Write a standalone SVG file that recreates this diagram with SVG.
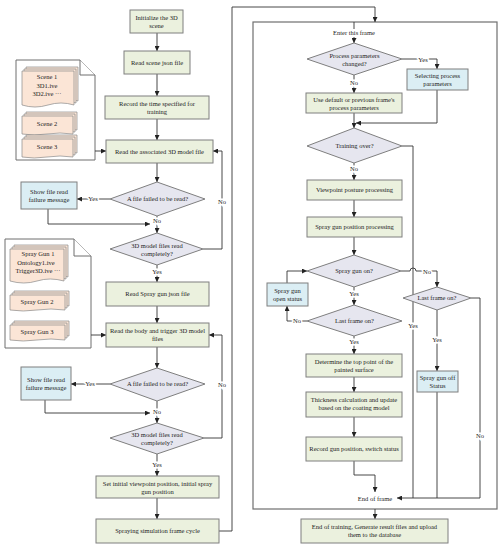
<svg xmlns="http://www.w3.org/2000/svg" width="503" height="550" viewBox="0 0 503 550">
<defs>
<marker id="ah" viewBox="0 0 6 6" refX="6" refY="3" markerWidth="5" markerHeight="5" markerUnits="userSpaceOnUse" orient="auto"><path d="M0,0 L6,3 L0,6 Z" fill="#222"/></marker>
<style>
.g{fill:#ebf1de;stroke:#7f7f7f;stroke-width:1}
.b{fill:#dbeef4;stroke:#7f7f7f;stroke-width:1}
.d{fill:#e6e6ef;stroke:#7f7f7f;stroke-width:1}
.doc{fill:#fff;stroke:#6f6f6f;stroke-width:1}
.card{fill:#fbe5d6;stroke:#8a8a8a;stroke-width:0.7}
.frame{fill:none;stroke:#6f6f6f;stroke-width:1.2}
.c{fill:none;stroke:#333;stroke-width:0.9}
.a{marker-end:url(#ah)}
text{font-family:"Liberation Serif","Times New Roman",serif;font-size:6.5px;fill:#222;text-anchor:middle}
.lbl{paint-order:stroke;stroke:#fff;stroke-width:3px}
</style>
</defs>
<rect width="503" height="550" fill="#fff"/>

<!-- frame -->
<rect id="frame" class="frame" x="253" y="22" width="244" height="487"/>

<!-- documents -->
<g id="scene-doc">
<path class="doc" d="M16,60 H80 L95,75 V160 H16 Z"/>
<path class="doc" d="M80,60 V75 H95"/>
<path class="card" d="M26,67 H78 V101 Q65,97 52,101 T26,101 Z"/>
<path class="card" d="M24,69 H76 V103 Q63,99 50,103 T24,103 Z"/>
<path class="card" d="M22,71 H74 V105 Q61,101 48,105 T22,105 Z"/>
<text x="47" y="79">Scene 1</text>
<text x="47" y="87.5">3D1.ive</text>
<text x="47" y="96">3D2.ive ···</text>
<path class="card" d="M26,112 H77 V130 Q64,128 51,130 T26,130 Z"/>
<path class="card" d="M24,114 H75 V132 Q62,130 49,132 T24,132 Z"/>
<path class="card" d="M22,116 H73 V134 Q60,132 47,134 T22,134 Z"/>
<text x="47" y="126">Scene 2</text>
<path class="card" d="M26,135 H77 V153 Q64,151 51,153 T26,153 Z"/>
<path class="card" d="M24,137 H75 V155 Q62,153 49,155 T24,155 Z"/>
<path class="card" d="M22,139 H73 V157 Q60,155 47,157 T22,157 Z"/>
<text x="47" y="149">Scene 3</text>
</g>

<g id="gun-doc">
<path class="doc" d="M5,239 H74 L91,256 V348 H5 Z"/>
<path class="doc" d="M74,239 V256 H91"/>
<path class="card" d="M14,245 H68 V277 Q54,273 41,277 T14,277 Z"/>
<path class="card" d="M12,247 H66 V279 Q52,275 39,279 T12,279 Z"/>
<path class="card" d="M10,249 H64 V281 Q50,277 37,281 T10,281 Z"/>
<text x="38" y="256">Spray Gun 1</text>
<text x="36" y="264.5">Ontology1.ive</text>
<text x="38" y="273">Trigger3D.ive ···</text>
<path class="card" d="M14,291 H69 V306 Q55,304 41,306 T14,306 Z"/>
<path class="card" d="M12,293 H67 V308 Q53,306 39,308 T12,308 Z"/>
<path class="card" d="M10,295 H65 V310 Q51,308 37,310 T10,310 Z"/>
<text x="37" y="304">Spray Gun 2</text>
<path class="card" d="M14,321 H69 V336 Q55,334 41,336 T14,336 Z"/>
<path class="card" d="M12,323 H67 V338 Q53,336 39,338 T12,338 Z"/>
<path class="card" d="M10,325 H65 V340 Q51,338 37,340 T10,340 Z"/>
<text x="37" y="334">Spray Gun 3</text>
</g>

<!-- connectors -->
<g id="connectors">
<path class="c a" d="M157,33 V51"/>
<path class="c a" d="M157,74 V96"/>
<path class="c a" d="M157,119 V140"/>
<path class="c a" d="M95,151 H106"/>
<path class="c a" d="M157,163 V182"/>
<path class="c a" d="M110,199 H77"/>
<path class="c a" d="M48,209 V224 H150"/>
<path class="c a" d="M157,216 V233"/>
<path class="c a" d="M203,249 H222 V151 H213"/>
<path class="c a" d="M157,265 V282"/>
<path class="c a" d="M157,306 V323"/>
<path class="c a" d="M91,335 H106"/>
<path class="c a" d="M157,347 V368"/>
<path class="c a" d="M110,384 H71"/>
<path class="c a" d="M45,400 V413 H150"/>
<path class="c a" d="M157,401 V423"/>
<path class="c a" d="M204,438 H222 V335 H209"/>
<path class="c a" d="M157,454 V476"/>
<path class="c a" d="M157,498 V519"/>
<path class="c a" d="M219,531 H232 V7 H375 V22"/>

<path class="c" d="M354,22 V29"/>
<path class="c a" d="M354,37 V43"/>
<path class="c a" d="M402,59 H437 V69"/>
<path class="c a" d="M354,75 V93"/>
<path class="c a" d="M354,113 V128"/>
<path class="c a" d="M437,90 V123 H356"/>
<path class="c" d="M402,146 H413 V498"/>
<path class="c a" d="M354,163 V180"/>
<path class="c a" d="M354,200 V217"/>
<path class="c a" d="M354,237 V255"/>
<path class="c a" d="M401,271 H410 A3,3 0 0 1 416,271 H437 V287"/>
<path class="c a" d="M287,283 V271 H307"/>
<path class="c a" d="M307,321 H287 V306"/>
<path class="c a" d="M354,287 V305"/>
<path class="c a" d="M354,336 V354"/>
<path class="c a" d="M354,377 V392"/>
<path class="c a" d="M354,417 V437"/>
<path class="c a" d="M354,461 V475 H375 V492"/>
<path class="c a" d="M471,298 H480 V498 H397"/>
<path class="c a" d="M437,310 V371"/>
<path class="c" d="M437,392 V498"/>
<path class="c a" d="M375,509 V519"/>
</g>

<!-- connector labels -->
<g id="labels">
<text class="lbl" x="93" y="201">Yes</text>
<text class="lbl" x="157" y="223">No</text>
<text class="lbl" x="222" y="204">No</text>
<text class="lbl" x="157" y="274">Yes</text>
<text class="lbl" x="90" y="386">Yes</text>
<text class="lbl" x="157" y="414">No</text>
<text class="lbl" x="222" y="387">No</text>
<text class="lbl" x="157" y="467">Yes</text>
<text class="lbl" x="423" y="62">Yes</text>
<text class="lbl" x="354" y="85">No</text>
<text class="lbl" x="354" y="171">No</text>
<text class="lbl" x="413" y="328">Yes</text>
<text class="lbl" x="427" y="274">No</text>
<text class="lbl" x="297" y="323">No</text>
<text class="lbl" x="354" y="296">Yes</text>
<text class="lbl" x="354" y="344">Yes</text>
<text class="lbl" x="480" y="438">No</text>
<text class="lbl" x="437" y="342">Yes</text>
</g>

<!-- left nodes -->
<g id="init"><rect class="g" x="130" y="10" width="53" height="23"/><text x="156.5" y="20">Initialize the 3D</text><text x="156.5" y="28">scene</text></g>
<g id="read-scene"><rect class="g" x="124" y="51" width="66" height="23"/><text x="157" y="64.5">Read scene json file</text></g>
<g id="record-time"><rect class="g" x="105" y="96" width="104" height="23"/><text x="157" y="106">Record the time specified for</text><text x="157" y="114">training</text></g>
<g id="read-model"><rect class="g" x="106" y="140" width="107" height="23"/><text x="159.5" y="153.5">Read the associated 3D model file</text></g>
<g id="fail1"><polygon class="d" points="157,182 205,199 157,216 110,199"/><text x="157.5" y="201">A file failed to be read?</text></g>
<g id="show1"><rect class="b" x="21" y="182" width="56" height="27"/><text x="49" y="193.5">Show file read</text><text x="49" y="201.5">failure message</text></g>
<g id="complete1"><polygon class="d" points="157,233 203,249 157,265 110,249"/><text x="157" y="247.5">3D model files read</text><text x="157" y="255.5">completely?</text></g>
<g id="read-gun"><rect class="g" x="106" y="282" width="103" height="24"/><text x="157.5" y="296">Read Spray gun json file</text></g>
<g id="read-body"><rect class="g" x="106" y="323" width="103" height="24"/><text x="157.5" y="333">Read the body and trigger 3D model</text><text x="157.5" y="341">files</text></g>
<g id="fail2"><polygon class="d" points="157,368 205,384 157,401 110,384"/><text x="157.5" y="386">A file failed to be read?</text></g>
<g id="show2"><rect class="b" x="21" y="367" width="50" height="33"/><text x="46" y="382">Show file read</text><text x="46" y="390">failure message</text></g>
<g id="complete2"><polygon class="d" points="157,423 204,438 157,454 110,438"/><text x="157" y="436.5">3D model files read</text><text x="157" y="444.5">completely?</text></g>
<g id="set-initial"><rect class="g" x="96" y="476" width="123" height="22"/><text x="157.5" y="485.5">Set initial viewpoint position, initial spray</text><text x="157.5" y="493.5">gun position</text></g>
<g id="frame-cycle"><rect class="g" x="96" y="519" width="123" height="24"/><text x="157.5" y="533">Spraying simulation frame cycle</text></g>

<!-- right nodes -->
<g id="enter"><text x="354" y="35">Enter this frame</text></g>
<g id="params-changed"><polygon class="d" points="354,43 402,59 354,75 307,59"/><text x="354.5" y="57.5">Process parameters</text><text x="354.5" y="65.5">changed?</text></g>
<g id="select-params"><rect class="b" x="407" y="69" width="61" height="21"/><text x="437.5" y="78">Selecting process</text><text x="437.5" y="86">parameters</text></g>
<g id="use-default"><rect class="g" x="306" y="93" width="96" height="20"/><text x="354" y="101.5">Use default or previous frame's</text><text x="354" y="109.5">process parameters</text></g>
<g id="training-over"><polygon class="d" points="354,128 402,146 354,163 307,146"/><text x="354.5" y="148">Training over?</text></g>
<g id="viewpoint"><rect class="g" x="307" y="180" width="95" height="20"/><text x="354.5" y="192">Viewpoint posture processing</text></g>
<g id="gun-pos"><rect class="g" x="307" y="217" width="95" height="20"/><text x="354.5" y="229">Spray gun position processing</text></g>
<g id="gun-on"><polygon class="d" points="354,255 401,271 354,287 307,271"/><text x="354" y="273">Spray gun on?</text></g>
<g id="open-status"><rect class="b" x="267" y="283" width="41" height="23"/><text x="287.5" y="292.5">Spray gun</text><text x="287.5" y="300.5">open status</text></g>
<g id="last-frame-1"><polygon class="d" points="354,305 402,321 354,336 307,321"/><text x="354.5" y="323">Last frame on?</text></g>
<g id="last-frame-2"><polygon class="d" points="437,287 471,298 437,310 403,298"/><text x="437" y="300">Last frame on?</text></g>
<g id="off-status"><rect class="b" x="417" y="371" width="41" height="21"/><text x="437.5" y="380">Spray gun off</text><text x="437.5" y="388">Status</text></g>
<g id="top-point"><rect class="g" x="306" y="354" width="96" height="23"/><text x="354" y="363.5">Determine the top point of the</text><text x="354" y="371.5">painted surface</text></g>
<g id="thickness"><rect class="g" x="306" y="392" width="96" height="25"/><text x="354" y="402">Thickness calculation and update</text><text x="354" y="410">based on the coating model</text></g>
<g id="record-gun"><rect class="g" x="306" y="437" width="96" height="24"/><text x="354" y="451">Record gun position, switch status</text></g>
<g id="end-frame"><text x="375" y="501">End of frame</text></g>
<g id="end-training"><rect class="g" x="301" y="519" width="147" height="24"/><text x="374.5" y="529">End of training, Generate result files and upload</text><text x="374.5" y="537">them to the database</text></g>
</svg>
